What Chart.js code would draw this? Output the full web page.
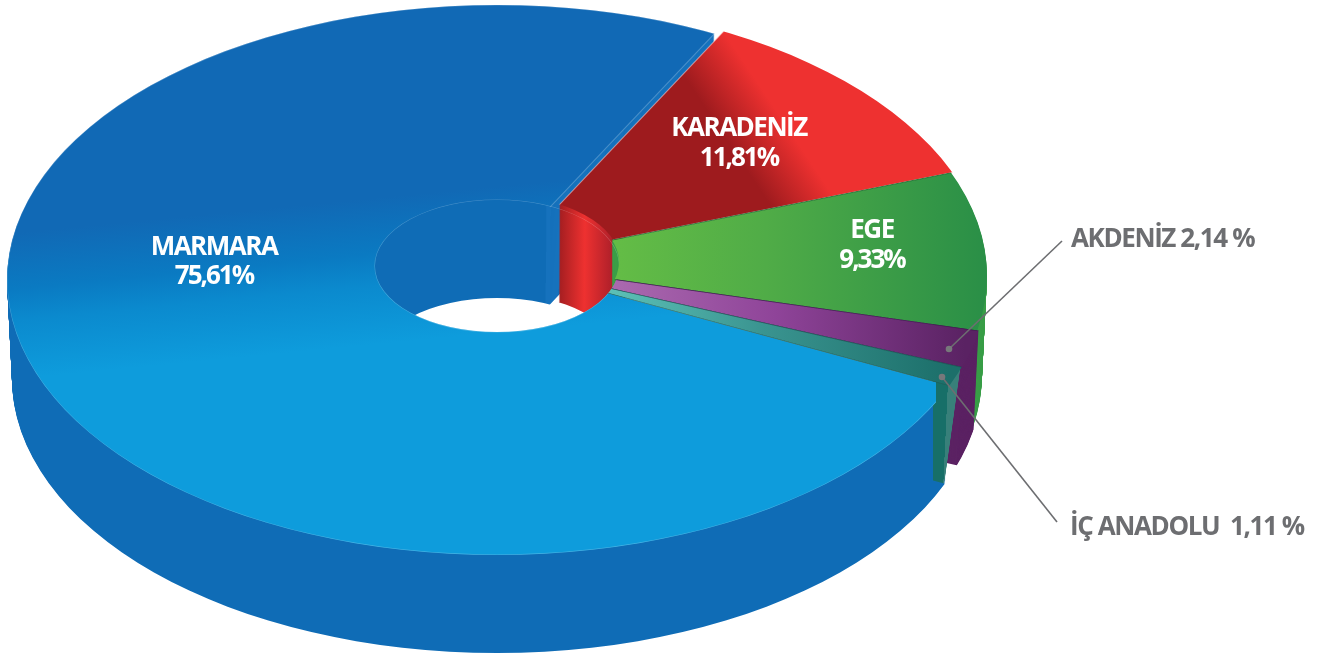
<!DOCTYPE html>
<html>
<head>
<meta charset="utf-8">
<title>Bölgelere göre dağılım</title>
<script src="https://cdn.jsdelivr.net/npm/chart.js@4"></script>
<style>
  html, body { margin: 0; background: #fff; }
  canvas { display: block; }
</style>
</head>
<body>
<canvas id="chartPie" width="1324" height="655"></canvas>
<script>
const categories = ['KARADENİZ', 'EGE', 'AKDENİZ', 'İÇ ANADOLU', 'MARMARA'];
const shares = [11.81, 9.33, 2.14, 1.11, 75.61];
const shareLabels = ['11,81%', '9,33%', '2,14 %', '1,11 %', '75,61%'];

// slices meet at the vanishing point, the rims have their own centres (perspective)
const CX = 497, CY = 263, WEDGE_RX = 564, WEDGE_RY = 316.4, DEPTH = 98;
const OUTER = { y: 280, rx: 490, ry: 275 };
const HOLE = { y: 266, rx: 122, ry: 66 };
// how far each slice and its rim is moved: [wedge dx, wedge dy, rim dx, rim dy]
const moves = [[9, -2, 1, -4.5], [0, 0, 0, -4], [0, 0, 0, 0], [0, 0, 0, 0], [0, 0, 0, 0]];

// gradient given in page pixels, built for the squashed chart space
function pageGradient(ctx, t, x0, y0, x1, y1, stops) {
    const ix = (y1 - y0) / t.sx, iy = (x0 - x1) / t.sy;
    const gx = -iy, gy = ix;
    const dx = (x1 - x0) / t.sx, dy = (y1 - y0) / t.sy;
    const k = (dx * gx + dy * gy) / (gx * gx + gy * gy);
    const ax = t.ex + (x0 - CX) / t.sx, ay = t.ey + (y0 - CY) / t.sy;
    const g = ctx.createLinearGradient(ax, ay, ax + gx * k, ay + gy * k);
    stops.forEach(s => g.addColorStop(s[0], s[1]));
    return g;
}

function faceStyles(ctx, t) {
    return [
        pageGradient(ctx, t, 691, 102, 739, 70, [[0, '#9e1b1e'], [1, '#ee3130']]),
        pageGradient(ctx, t, 620, 0, 985, 0, [[0, '#63bc46'], [0.4, '#50ac47'], [1, '#2a8f47']]),
        pageGradient(ctx, t, 620, 0, 965, 0, [[0, '#a968ae'], [0.45, '#8f4499'], [1, '#5a2263']]),
        pageGradient(ctx, t, 610, 0, 950, 0, [[0, '#5cc0b6'], [0.45, '#3a9490'], [1, '#1c6f6a']]),
        pageGradient(ctx, t, 200, 215, 214, 360, [[0, '#1169b5'], [0.38, '#0a7ac2'], [0.6, '#0b8ace'], [1, '#0e9cdc']])
    ];
}

function wallStyles(ctx, t) {
    const cut = ctx.createConicGradient((28 - 90 - 2.5) * Math.PI / 180, t.ex, t.ey);
    cut.addColorStop(0, '#1672bd');
    cut.addColorStop(2.5 / 360, '#1672bd');
    cut.addColorStop(2.5 / 360, '#0f6cb6');
    cut.addColorStop(1, '#0f6cb6');
    return [
        pageGradient(ctx, t, 549, 0, 603, 0, [[0, '#a01d20'], [0.5, '#ee3130'], [1, '#b0202a']]),
        '#3a9e48',
        '#5b2263',
        pageGradient(ctx, t, 933, 0, 960, 0, [[0, '#176f68'], [0.55, '#176f68'], [0.55, '#38807a'], [1, '#38807a']]),
        cut
    ];
}

const edgeColors = ['rgba(255,210,210,0.55)', 'rgba(30,110,50,0.9)', 'rgba(70,20,85,0.9)', 'rgba(30,95,90,0.9)', 'rgba(255,255,255,0.22)'];

const extrude = {
    id: 'extrude',
    beforeDatasetsDraw(chart) {
        const ctx = chart.ctx;
        const arcs = chart.getDatasetMeta(0).data;
        const R = arcs[0].outerRadius;
        const t = { sx: WEDGE_RX / R, sy: WEDGE_RY / R, ex: arcs[0].x, ey: arcs[0].y };
        const faces = faceStyles(ctx, t);
        const walls = wallStyles(ctx, t);

        const paint = (i, d, fill, edge, maxX) => {
            const el = arcs[i], orig = el.options, m = moves[i];
            const k = 1 - 0.01 * d / DEPTH; // far rim is a bit narrower
            el.options = Object.assign({}, orig, {
                backgroundColor: fill,
                borderWidth: edge ? 0.8 : 0,
                borderColor: edge || 'transparent'
            });
            const ring = new Path2D();
            ring.ellipse(CX + m[2], OUTER.y + m[3] + d, OUTER.rx * k, OUTER.ry, 0, 0, Math.PI * 2);
            ring.ellipse(CX + m[2], HOLE.y + m[3] + d, HOLE.rx, HOLE.ry, 0, 0, Math.PI * 2);
            ctx.save();
            if (maxX) {
                ctx.beginPath();
                ctx.rect(0, 0, maxX, 655);
                ctx.clip();
            }
            ctx.clip(ring, 'evenodd');
            ctx.save();
            ctx.translate(CX + m[0], CY + m[1] + d);
            ctx.scale(t.sx * k, t.sy);
            ctx.translate(-t.ex, -t.ey);
            el.draw(ctx);
            ctx.restore();
            if (edge && i === 4) {
                ctx.strokeStyle = edge;
                ctx.lineWidth = 1.2;
                ctx.stroke(ring);
            }
            ctx.restore();
            el.options = orig;
        };

        // Marmara wall first
        for (let d = DEPTH; d > 0; d--) paint(4, d, walls[4]);
        // other walls sit over it, but only in the hole and at the outer cut
        ctx.save();
        ctx.beginPath();
        ctx.rect(0, 0, 625, 655);
        ctx.clip();
        for (let d = DEPTH; d > 0; d--) paint(0, d, walls[0]);
        ctx.restore();
        ctx.save();
        ctx.beginPath();
        ctx.rect(0, 0, 625, 655);
        ctx.rect(933, 0, 391, 655);
        ctx.clip();
        for (let d = DEPTH; d > 0; d--) paint(1, d, walls[1]);
        for (let d = DEPTH; d > 0; d--) paint(2, d, walls[2]);
        for (let d = DEPTH; d > 0; d--) paint(3, d, walls[3], null, 960 - 16 * d / DEPTH);
        ctx.restore();
        // top faces, Marmara tip stops at the teal wall
        paint(4, 0, faces[4], edgeColors[4], 936);
        for (let i = 0; i < 4; i++) paint(i, 0, faces[i], edgeColors[i]);
        return false;
    },
    afterDraw(chart) {
        const ctx = chart.ctx;
        ctx.save();
        ctx.textAlign = 'center';
        ctx.textBaseline = 'alphabetic';
        ctx.fillStyle = '#ffffff';
        ctx.font = '700 26px "Open Sans", sans-serif';
        [[4, 214, 255, 284], [0, 739, 136, 166], [1, 872, 238, 268]].forEach(p => {
            ctx.letterSpacing = '-1.5px';
            ctx.fillText(categories[p[0]], p[1], p[2]);
            ctx.letterSpacing = '-2px';
            ctx.fillText(shareLabels[p[0]], p[1], p[3]);
        });

        // leader lines and outside labels
        ctx.strokeStyle = '#6d6e71';
        ctx.fillStyle = '#77787b';
        ctx.lineWidth = 1.6;
        [[949, 349, 1062, 241], [942, 377, 1057, 522]].forEach(l => {
            ctx.beginPath();
            ctx.moveTo(l[0], l[1]);
            ctx.lineTo(l[2], l[3]);
            ctx.stroke();
            ctx.beginPath();
            ctx.arc(l[0], l[1], 3.3, 0, Math.PI * 2);
            ctx.fill();
        });
        ctx.textAlign = 'left';
        ctx.fillStyle = '#6d6e71';
        ctx.letterSpacing = '-1.4px';
        ctx.fillText(categories[2] + ' ' + shareLabels[2], 1071, 247);
        ctx.fillText(categories[3] + '  ' + shareLabels[3], 1070, 535);
        ctx.restore();
    }
};

new Chart(document.getElementById('chartPie'), {
    type: 'doughnut',
    data: {
        labels: categories,
        datasets: [{
            data: shares,
            borderWidth: 0,
            clip: false
        }]
    },
    options: {
        responsive: false,
        animation: false,
        rotation: 28,
        cutout: '10%',
        plugins: {
            legend: { display: false },
            tooltip: { enabled: false }
        }
    },
    plugins: [extrude]
});
</script>
</body>
</html>
